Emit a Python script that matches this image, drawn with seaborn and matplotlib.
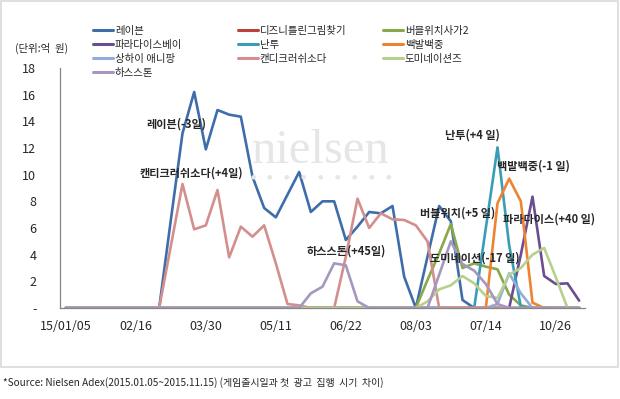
import matplotlib
matplotlib.use("Agg")
import matplotlib.pyplot as plt
from matplotlib.lines import Line2D
from matplotlib.patches import Rectangle
import seaborn as sns
import pandas as pd
import numpy as np

# weekly ad spend (unit: 100M KRW), 2015-01-05 .. 2015-11-09
rave = [0, 0, 0, 0, 0, 0, 0, 0, 0, 6.6, 13.1, 16.2, 11.9, 14.85, 14.5, 14.35, 9.85, 7.5,
        6.8, 8.5, 10.2, 7.2, 8.0, 8.0, 5.1, 6.1, 7.2, 7.1, 7.65, 2.35, 0, 3.85, 7.65, 6.5,
        0.6, 0, 0, 0, 0, 0, 0, 0, 0, 0, 0]
disney = [0] * 45
bubble = [0] * 31 + [2.1, 4.1, 6.3, 3.0, 3.35, 3.1, 2.9, 1.0, 0.2, 0, 0, 0, 0, 0]
paradise = [0] * 39 + [4.0, 8.35, 2.4, 1.8, 1.85, 0.55]
nantu = [0] * 36 + [6.0, 12.05, 4.7, 0.1, 0, 0, 0, 0, 0]
baekbal = [0] * 37 + [7.85, 9.7, 8.0, 0.4, 0, 0, 0, 0]
shanghai = [0] * 37 + [0.3, 2.6, 1.1, 0, 0, 0, 0, 0]
candy = [0, 0, 0, 0, 0, 0, 0, 0, 0, 4.65, 9.3, 5.9, 6.2, 8.85, 3.8, 6.1, 5.35, 6.2,
         3.35, 0.3, 0.2, 0, 0, 0, 3.85, 8.2, 6.0, 7.1, 6.65, 6.6, 6.2, 5.0, 0, 0, 0,
         0, 0, 0, 0, 0, 0, 0, 0, 0, 0]
domi = [0] * 31 + [0.5, 1.4, 1.7, 2.4, 1.85, 0.9, 0.75, 2.5, 3.0, 4.0, 4.5, 2.3, 0, 0]
hearth = [0] * 21 + [1.1, 1.6, 3.35, 3.2, 0.5, 0, 0, 0, 0, 0, 0, 2.5, 5.0, 3.3, 2.8,
                     1.8, 0.3, 0, 0, 0, 0, 0, 0, 0]

games = ["레이븐", "디즈니틀린그림찾기", "버블위치사가2", "파라다이스베이", "난투",
         "백발백중", "상하이 애니팡", "캔디크러쉬소다", "도미네이션즈", "하스스톤"]
series = [rave, disney, bubble, paradise, nantu, baekbal, shanghai, candy, domi, hearth]
colors = ["#3F6DAA", "#B9413E", "#88A84A", "#6B4E92", "#3A9DB8", "#EE8431",
          "#8FAEDA", "#D38F8D", "#B8D08E", "#A597C0"]

tick_pos = [0, 6, 12, 18, 24, 30, 36, 42]
tick_labels = ["15/01/05", "02/16", "03/30", "05/11", "06/22", "08/03", "07/14", "10/26"]

notes = [("레이븐(-3일)", 6.93, 13.8), ("캔티크러쉬소다(+4일)", 6.36, 10.13),
         ("하스스톤(+45일)", 20.64, 4.28), ("난투(+4 일)", 32.5, 12.98),
         ("백발백중(-1 일)", 36.92, 10.67), ("버블위치(+5 일)", 30.35, 7.15),
         ("파라다이스(+40 일)", 37.44, 6.68), ("도미네이션(-17 일)", 31.2, 3.73)]

rows = []
for g, vals in zip(games, series):
    for i, v in enumerate(vals):
        rows.append({"week": i, "value": v, "game": g})
df = pd.DataFrame(rows)

sns.set_style("white")
plt.rcParams["font.family"] = ["Noto Sans CJK KR", "DejaVu Sans"]

fig = plt.figure(figsize=(6.2, 3.99), dpi=100)
ax = fig.add_axes([60 / 620, 1 - 308 / 399, 525 / 620, 240 / 399])

# watermark
fig.text(321 / 620, 1 - 163 / 399, "nielsen", family="Liberation Serif", fontsize=35,
         color="#e4e6e8", ha="center", va="baseline", zorder=0)
for dx in np.linspace(253, 388, 9):
    fig.text(dx / 620, 1 - 177 / 399, "●", fontsize=4.5, color="#e6e6e6",
             ha="center", va="center", family="DejaVu Sans")

sns.lineplot(data=df, x="week", y="value", hue="game", hue_order=games,
             palette=colors, linewidth=1.9, legend=False, ax=ax)

ax.set_xlim(-0.5, 44.5)
ax.set_ylim(0, 18)
ax.set_xlabel("")
ax.set_ylabel("")
ax.patch.set_alpha(0)
for s in ["top", "right"]:
    ax.spines[s].set_visible(False)
for s in ["left", "bottom"]:
    ax.spines[s].set_color("#868686")
    ax.spines[s].set_linewidth(0.9)

ax.set_yticks(range(0, 19, 2))
ax.set_yticklabels(["-"] + [str(v) for v in range(2, 19, 2)])
ax.tick_params(axis="y", direction="out", length=3, color="#868686", pad=14,
               labelsize=9)
ax.set_xticks(tick_pos)
ax.set_xticklabels(tick_labels)
ax.set_xticks(np.arange(-0.5, 45, 1), minor=True)
ax.tick_params(axis="x", which="major", length=0, pad=9, labelsize=9)
ax.tick_params(axis="x", which="minor", direction="out", length=3, color="#868686")
ax.grid(False)

for txt, x, y in notes:
    ax.text(x, y, txt, fontsize=8, fontweight="bold", ha="left", va="center")

fig.text(15 / 620, 1 - 48 / 399, "(단위:억  원)", fontsize=7.5, ha="left", va="center")

# legend in three columns, row-major like the original
handles = [Line2D([], [], color=c, lw=2.2) for c in colors]
cols = [[0, 3, 6, 9], [1, 4, 7], [2, 5, 8]]
xs = [93, 238, 383]
for idx, x0 in zip(cols, xs):
    fig.legend([handles[i] for i in idx], [games[i] for i in idx],
               loc="upper left", bbox_to_anchor=(x0 / 620, 1 - 26 / 399),
               bbox_transform=fig.transFigure, frameon=False, fontsize=7.5,
               handlelength=1.9, handletextpad=0.2, borderpad=0,
               borderaxespad=0, labelspacing=0.38)

fig.add_artist(Rectangle((1 / 620, 32 / 399), 617 / 620, 366 / 399, fill=False,
                         edgecolor="#D9D9D9", lw=1.2, transform=fig.transFigure))
fig.text(3 / 620, 1 - 383 / 399,
         "*Source: Nielsen Adex(2015.01.05~2015.11.15) (게임출시일과 첫  광고  집행  시기  차이)",
         fontsize=7.2, ha="left", va="center")

fig.savefig("out.png", dpi=100)
